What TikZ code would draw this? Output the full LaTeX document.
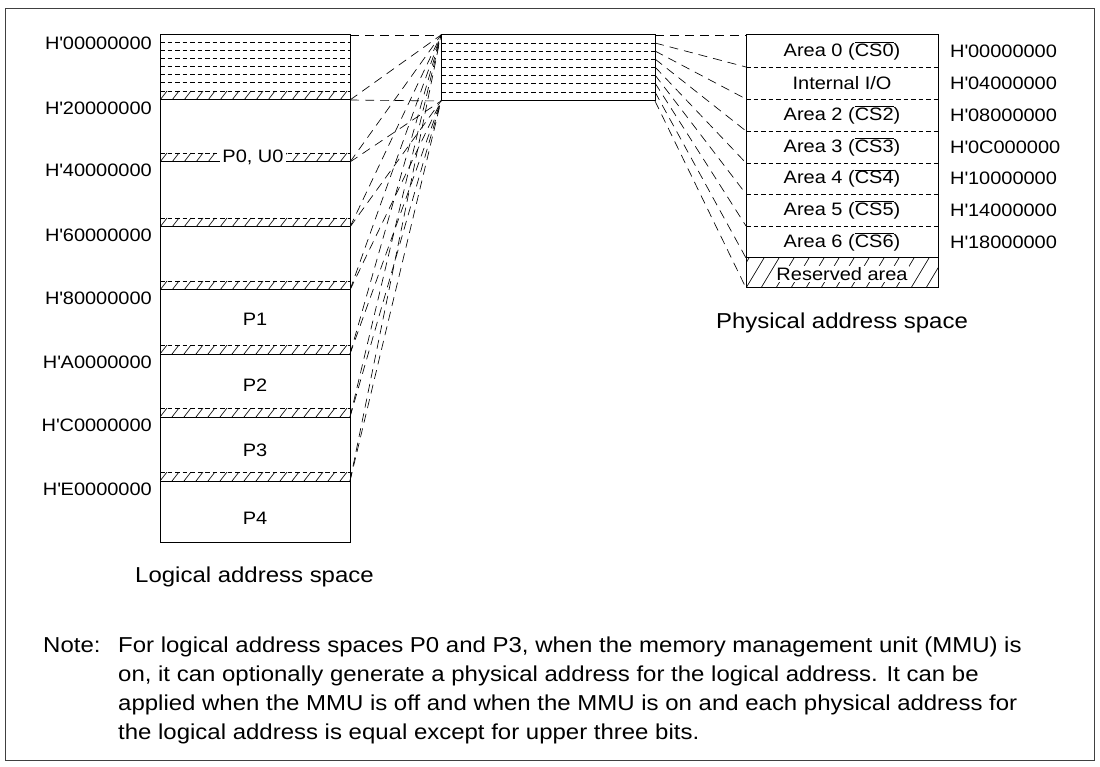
\documentclass[tikz,border=0pt]{standalone}
\usepackage{fontspec}
\setmainfont{Liberation Sans}[FakeStretch=1.11]
\newcommand{\ovl}[1]{$\overline{\mbox{#1}}$}
\newcommand{\Hq}{H\textquotesingle}
\begin{document}
\begin{tikzpicture}[x=1pt,y=-1pt,
  txt/.style={font=\fontsize{18}{21}\selectfont, inner sep=0pt},
  bigtxt/.style={font=\fontsize{21.6}{25}\selectfont, inner sep=0pt},
  fan/.style={line width=0.65pt, dash pattern=on 9pt off 6pt},
  fine/.style={line width=0.65pt, dash pattern=on 4.5pt off 3pt},
  hatchln/.style={line width=0.65pt},
  boxln/.style={line width=1pt}]
\useasboundingbox (0,0) rectangle (1100,767);
\draw[line width=0.8pt, black!75] (5,8) rectangle (1094,760);

% ---------- logical address space ----------
\foreach \y in {42.5,50.5,58.5,66.5,74.5,82.5} \draw[fine] (160,\y) -- (350,\y);
\foreach \b in {100,162,227,290,354,417,481}{
  \begin{scope}
    \clip (160,\b-9) rectangle (350,\b);
    \foreach \x in {148,160,...,352} \draw[hatchln] (\x,\b) -- (\x+7,\b-9);
  \end{scope}
  \draw[fine] (160,\b-9) -- (350,\b-9);
  \draw[boxln] (160,\b) -- (350,\b);
}
\draw[boxln] (160,35) rectangle (350,542);

\node[txt, fill=white, inner sep=2pt] (p0) at (253,157) {P0, U0};
\node[txt] (p1) at (255,319) {P1};
\node[txt] (p2) at (255,385) {P2};
\node[txt] (p3) at (255,450) {P3};
\node[txt] (p4) at (255,518) {P4};

\node[txt, anchor=east] (la0) at (152,43) {\Hq 00000000};
\node[txt, anchor=east] (la1) at (152,108) {\Hq 20000000};
\node[txt, anchor=east] (la2) at (152,170) {\Hq 40000000};
\node[txt, anchor=east] (la3) at (152,235) {\Hq 60000000};
\node[txt, anchor=east] (la4) at (152,298) {\Hq 80000000};
\node[txt, anchor=east] (la5) at (152,362) {\Hq A0000000};
\node[txt, anchor=east] (la6) at (152,425) {\Hq C0000000};
\node[txt, anchor=east] (la7) at (152,489) {\Hq E0000000};

\node[bigtxt, anchor=base] (lcap) at (254.5,582) {Logical address space};

% ---------- middle box ----------
\coordinate (LT) at (350,35);
\coordinate (LB) at (350,100);
\coordinate (MT) at (441,35);
\coordinate (MB) at (441,101);
\draw[boxln] (441,35) rectangle (655,101);
\foreach \y in {43,51,59,67,75,83,92} \draw[fine] (441,\y) -- (655,\y);

\draw[fan] (LT) -- (MT);
\draw[fan] (LB) -- (MB);
\draw[fan] (LB) -- (MT);
\foreach \b in {162,227,290,354,417,481}{
  \coordinate (B\b) at (350,\b);
  \draw[fan] (B\b) -- (MT);
  \draw[fan] (B\b) -- (MB);
}

% ---------- physical address space ----------
\foreach \a/\c in {35/35,43/67,51/99,59/131,67/163,75/194,83/226,92/258,101/288}{
  \coordinate (S\a) at (655,\a);
  \coordinate (E\c) at (746,\c);
  \draw[fan] (S\a) -- (E\c);
}
\foreach \y in {67,99,131,163,194,226} \draw[fine] (746,\y) -- (938,\y);
\begin{scope}
  \clip (746,258) rectangle (938,288);
  \foreach \x in {716,731,...,940} \draw[hatchln] (\x,288) -- (\x+18,258);
\end{scope}
\draw[boxln] (746,35) rectangle (938,288);
\draw[boxln] (746,258) -- (938,258);
\node[txt, fill=white, inner sep=1.5pt] (res) at (842,274) {Reserved area};

\node[txt] (r0) at (842,51) {Area 0 (\ovl{CS0})};
\node[txt] (r1) at (842,83) {Internal I/O};
\node[txt] (r2) at (842,115) {Area 2 (\ovl{CS2})};
\node[txt] (r3) at (842,147) {Area 3 (\ovl{CS3})};
\node[txt] (r4) at (842,178.5) {Area 4 (\ovl{CS4})};
\node[txt] (r5) at (842,210) {Area 5 (\ovl{CS5})};
\node[txt] (r6) at (842,242) {Area 6 (\ovl{CS6})};

\node[txt, anchor=west] (ra0) at (950,51) {\Hq 00000000};
\node[txt, anchor=west] (ra1) at (950,83) {\Hq 04000000};
\node[txt, anchor=west] (ra2) at (950,115) {\Hq 08000000};
\node[txt, anchor=west] (ra3) at (950,147) {\Hq 0C000000};
\node[txt, anchor=west] (ra4) at (950,178.5) {\Hq 10000000};
\node[txt, anchor=west] (ra5) at (950,210) {\Hq 14000000};
\node[txt, anchor=west] (ra6) at (950,242) {\Hq 18000000};

\node[bigtxt, anchor=base] (pcap) at (842,328) {Physical address space};

% ---------- note ----------
\node[bigtxt, anchor=base west] (note) at (43,652) {Note:};
\node[bigtxt, anchor=base west] (n1) at (118,652) {For logical address spaces P0 and P3, when the memory management unit (MMU) is};
\node[bigtxt, anchor=base west] (n2) at (118,681) {on, it can optionally generate a physical address for the logical address. It can be};
\node[bigtxt, anchor=base west] (n3) at (118,710) {applied when the MMU is off and when the MMU is on and each physical address for};
\node[bigtxt, anchor=base west] (n4) at (118,739) {the logical address is equal except for upper three bits.};
\end{tikzpicture}
\end{document}
